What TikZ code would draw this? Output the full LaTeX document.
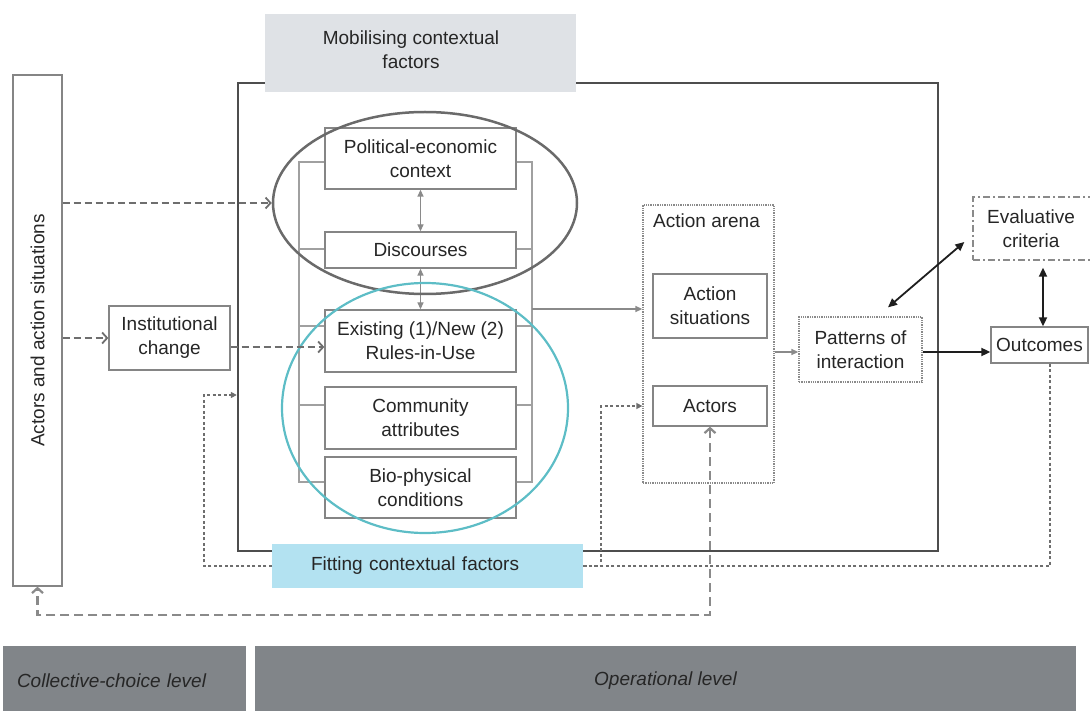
\documentclass[tikz,border=0pt]{standalone}
\usepackage{graphicx}
\usepackage{fontspec}
\setmainfont{Liberation Sans}
\usetikzlibrary{arrows.meta,shapes.geometric,calc}
\definecolor{txt}{HTML}{262626}
\definecolor{boxgray}{HTML}{858585}
\definecolor{brkgray}{HTML}{A0A0A0}
\definecolor{framegray}{HTML}{4D4D4D}
\definecolor{mobgray}{HTML}{DFE2E6}
\definecolor{fitblue}{HTML}{B3E2F1}
\definecolor{ellgray}{HTML}{6A6A6A}
\definecolor{tealc}{HTML}{5DBDC6}
\definecolor{dashgray}{HTML}{6E6E6E}
\definecolor{dotgray}{HTML}{8A8A8A}
\definecolor{bandgray}{HTML}{818589}
\definecolor{blkc}{HTML}{1E1E1E}
\begin{document}
\begin{tikzpicture}[x=1pt,y=-1pt,
  font=\fontsize{19}{24}\selectfont,
  every node/.style={text=txt},
  boxs/.style={draw=boxgray, line width=1.3pt, fill=white, inner sep=0pt, align=center},
  dotbox/.style={draw=dotgray, line width=1.3pt, densely dotted, inner sep=0pt, align=center},
  opframe/.style={draw=framegray, line width=2.4pt, inner sep=0pt},
  brk/.style={draw=brkgray, line width=1.3pt},
  garr/.style={draw=dotgray, line width=1.3pt, -{Triangle[length=7pt,width=6pt]}},
  garrb/.style={draw=dotgray, line width=1.3pt, {Triangle[length=7pt,width=6pt]}-{Triangle[length=7pt,width=6pt]}},
  dsh/.style={draw=dashgray, line width=1.8pt, dash pattern=on 7pt off 4pt, -{Straight Barb[length=5pt,width=11pt]}},
  dtl/.style={draw=dashgray, line width=1.8pt, dash pattern=on 3pt off 2.5pt},
  ldsh/.style={draw=dotgray, line width=2.2pt, dash pattern=on 9pt off 5pt},
  blkarr/.style={draw=blkc, line width=1.8pt},
  band/.style={fill=bandgray, minimum height=70pt, font=\fontsize{19}{24}\selectfont\itshape}
]
\useasboundingbox (0,0) rectangle (1090,711);

% operational frame
\node[opframe, minimum width=700pt, minimum height=468pt] (opbox) at (588,317) {};
\node[fill=mobgray, minimum width=311pt, minimum height=78pt, inner sep=0pt] (mob) at (420.5,53) {};
\node[align=center, inner sep=0pt] (mobtxt) at (411,50) {Mobilising contextual\\factors};
\node[fill=fitblue, minimum height=44pt, inner ysep=0pt, inner xsep=39pt, text width=233pt, align=left] (fitb) at (427.5,566) {Fitting contextual factors};

% left side
\node[boxs, minimum width=49pt, minimum height=511pt] (actsit) at (37.5,330.5) {\rotatebox{90}{Actors and action situations}};
\node[boxs, minimum width=121pt, minimum height=64pt] (inst) at (169.5,338) {Institutional\\change};

% brackets
\draw[brk] (325,162) -- (299,162) -- (299,482) -- (325,482);
\foreach \y in {249,326,405} \draw[brk] (299,\y) -- (325,\y);
\draw[brk] (516,162) -- (532,162) -- (532,482) -- (516,482);
\foreach \y in {249,326,405} \draw[brk] (532,\y) -- (516,\y);

% stacked boxes
\node[boxs, minimum width=191pt, minimum height=61pt] (pol) at (420.5,158.5) {Political-economic\\context};
\node[boxs, minimum width=191pt, minimum height=36pt] (disc) at (420.5,250) {Discourses};
\node[boxs, minimum width=191pt, minimum height=62pt] (rules) at (420.5,341) {Existing (1)/New (2)\\Rules-in-Use};
\node[boxs, minimum width=191pt, minimum height=62pt] (comm) at (420.5,418) {Community\\attributes};
\node[boxs, minimum width=191pt, minimum height=61pt] (bio) at (420.5,487.5) {Bio-physical\\conditions};

\draw[garrb] (pol.south) -- (disc.north);
\draw[garrb] (disc.south) -- (rules.north);

% ellipses
\node[draw=ellgray, line width=2.5pt, ellipse, minimum width=304pt, minimum height=182pt, inner sep=0pt] (ell1) at (425,203) {};
\node[draw=tealc, line width=2.2pt, ellipse, minimum width=286pt, minimum height=250pt, inner sep=0pt] (ell2) at (425,408) {};

% action arena
\node[dotbox, minimum width=131pt, minimum height=278pt] (arena) at (708.5,344) {};
\node[anchor=west, inner sep=0pt] (arenalbl) at (653,221) {Action arena};
\node[boxs, minimum width=114pt, minimum height=64pt] (actsits) at (710,306) {Action\\situations};
\node[boxs, minimum width=114pt, minimum height=40pt] (actors) at (710,406) {Actors};

% right side
\node[dotbox, fill=white, minimum width=123pt, minimum height=65pt] (patt) at (860.5,349.5) {Patterns of\\interaction};
\node[boxs, minimum width=97pt, minimum height=36pt] (outc) at (1039.5,345) {Outcomes};
\node[draw=dotgray, line width=1.3pt, dash pattern=on 7pt off 3pt on 2pt off 3pt, minimum width=127pt, minimum height=63pt, inner sep=0pt] (evalc) at (1036.5,228.5) {};
\node[align=center, inner sep=0pt] (evaltxt) at (1031,228.5) {Evaluative\\criteria};

% bottom bands
\node[band, minimum width=243pt, inner ysep=0pt, inner xsep=14pt, text width=215pt, align=left] (colband) at (124.5,681) {Collective-choice level};
\node[band, minimum width=821pt, inner sep=0pt] (opband) at (665.5,681) {Operational level};

% connectors
\draw[dsh] (actsit.east |- ell1.west) -- (ell1.west);
\draw[dsh] (actsit.east |- inst.west) -- (inst.west);
\coordinate (ie) at ($(inst.east)+(0,9)$);
\draw[dsh] (ie) -- (ie -| rules.west);

\coordinate (rb) at (532,309);
\draw[garr] (rb) -- (rb -| arena.west);
\coordinate (ap) at ($(patt.west)+(0,2.5)$);
\draw[garr] (ap -| arena.east) -- (ap);

\coordinate (pe) at ($(patt.east)+(0,2.5)$);
\draw[blkarr, -{Triangle[length=9pt,width=8pt]}] (pe) -- (pe -| outc.west);
\coordinate (oe) at ($(outc.north)+(3.5,0)$);
\draw[blkarr, shorten >=7pt, {Triangle[length=9pt,width=8pt]}-{Triangle[length=9pt,width=8pt]}] (oe) -- (oe |- evalc.south);
\coordinate (d1) at ($(patt.north)+(27.5,-9)$);
\coordinate (d2) at ($(evalc.west)+(-8,13.5)$);
\draw[blkarr, {Triangle[length=9pt,width=8pt]}-{Triangle[length=9pt,width=8pt]}] (d1) -- (d2);

% dotted feedback lines
\coordinate (fl) at (204,395);
\draw[dtl, -{Triangle[length=6pt,width=6pt]}] (fitb.west) -| (fl) -- (fl -| opbox.west);
\coordinate (fa) at ($(arena.west |- actors.west)+(-41,0)$);
\draw[dtl, -{Triangle[length=6pt,width=6pt]}] (fitb.east) -| (fa) -- (arena.west |- actors.west);
\draw[dtl] ($(outc.south)+(10.5,0)$) |- (fitb.east);

% long dashed return
\draw[ldsh, {Straight Barb[length=5pt,width=11pt]}-{Straight Barb[length=5pt,width=11pt]}] (actors.south) -- ++(0,188) -| (actsit.south);
\end{tikzpicture}
\end{document}
